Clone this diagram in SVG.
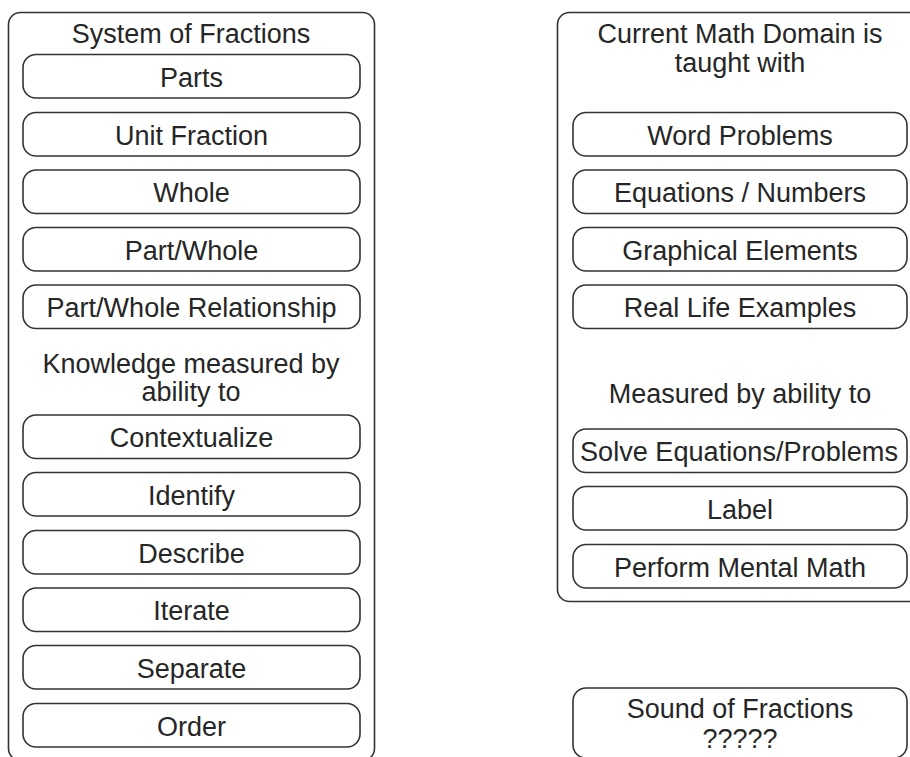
<svg xmlns="http://www.w3.org/2000/svg" width="910" height="757" viewBox="0 0 910 757">
<style>
.outer{fill:#fff;stroke:#333;stroke-width:1.6}
.box{fill:#fff;stroke:#333;stroke-width:1.6}
text{font-family:"Liberation Sans",Arial,Helvetica,sans-serif;font-size:27px;fill:#262626;text-anchor:middle}
</style>
<rect width="910" height="757" fill="#fff"/>
<g id="system-of-fractions">
<rect class="outer" x="8.5" y="12.5" width="366" height="748" rx="12"/>
<text x="191" y="43">System of Fractions</text>
<text x="191" y="373">Knowledge measured by</text>
<text x="191" y="401">ability to</text>
</g>
<g id="parts"><rect class="box" x="23" y="54.5" width="337" height="43.5" rx="13"/><text x="191.5" y="86.5">Parts</text></g>
<g id="unit-fraction"><rect class="box" x="23" y="112.5" width="337" height="43.5" rx="13"/><text x="191.5" y="144.5">Unit Fraction</text></g>
<g id="whole"><rect class="box" x="23" y="170" width="337" height="43.5" rx="13"/><text x="191.5" y="202">Whole</text></g>
<g id="part-whole"><rect class="box" x="23" y="227.5" width="337" height="43.5" rx="13"/><text x="191.5" y="259.5">Part/Whole</text></g>
<g id="part-whole-relationship"><rect class="box" x="23" y="285" width="337" height="43.5" rx="13"/><text x="191.5" y="317" textLength="290" lengthAdjust="spacingAndGlyphs">Part/Whole Relationship</text></g>
<g id="contextualize"><rect class="box" x="23" y="415" width="337" height="43.5" rx="13"/><text x="191.5" y="447">Contextualize</text></g>
<g id="identify"><rect class="box" x="23" y="472.5" width="337" height="43.5" rx="13"/><text x="191.5" y="504.5">Identify</text></g>
<g id="describe"><rect class="box" x="23" y="530.5" width="337" height="43.5" rx="13"/><text x="191.5" y="562.5">Describe</text></g>
<g id="iterate"><rect class="box" x="23" y="588" width="337" height="43.5" rx="13"/><text x="191.5" y="620">Iterate</text></g>
<g id="separate"><rect class="box" x="23" y="645.5" width="337" height="43.5" rx="13"/><text x="191.5" y="677.5">Separate</text></g>
<g id="order"><rect class="box" x="23" y="703.5" width="337" height="43.5" rx="13"/><text x="191.5" y="735.5">Order</text></g>

<g id="current-math-domain">
<rect class="outer" x="557.5" y="12.5" width="370" height="589" rx="12"/>
<text x="740" y="43">Current Math Domain is</text>
<text x="740" y="72">taught with</text>
<text x="740" y="403">Measured by ability to</text>
</g>
<g id="word-problems"><rect class="box" x="573" y="112.5" width="334" height="43.5" rx="13"/><text x="740" y="144.5">Word Problems</text></g>
<g id="equations-numbers"><rect class="box" x="573" y="170" width="334" height="43.5" rx="13"/><text x="740" y="202">Equations / Numbers</text></g>
<g id="graphical-elements"><rect class="box" x="573" y="227.5" width="334" height="43.5" rx="13"/><text x="740" y="259.5">Graphical Elements</text></g>
<g id="real-life-examples"><rect class="box" x="573" y="285" width="334" height="43.5" rx="13"/><text x="740" y="317">Real Life Examples</text></g>
<g id="solve-equations"><rect class="box" x="573" y="429" width="334" height="43.5" rx="13"/><text x="739" y="461" textLength="318" lengthAdjust="spacingAndGlyphs">Solve Equations/Problems</text></g>
<g id="label"><rect class="box" x="573" y="486.5" width="334" height="43.5" rx="13"/><text x="740" y="518.5">Label</text></g>
<g id="perform-mental-math"><rect class="box" x="573" y="544.5" width="334" height="43.5" rx="13"/><text x="740" y="576.5">Perform Mental Math</text></g>

<g id="sound-of-fractions"><rect class="box" x="573" y="688" width="334" height="70" rx="13"/><text x="740" y="718">Sound of Fractions</text><text x="740" y="748">?????</text></g>
<g id="connectors"></g>
</svg>
